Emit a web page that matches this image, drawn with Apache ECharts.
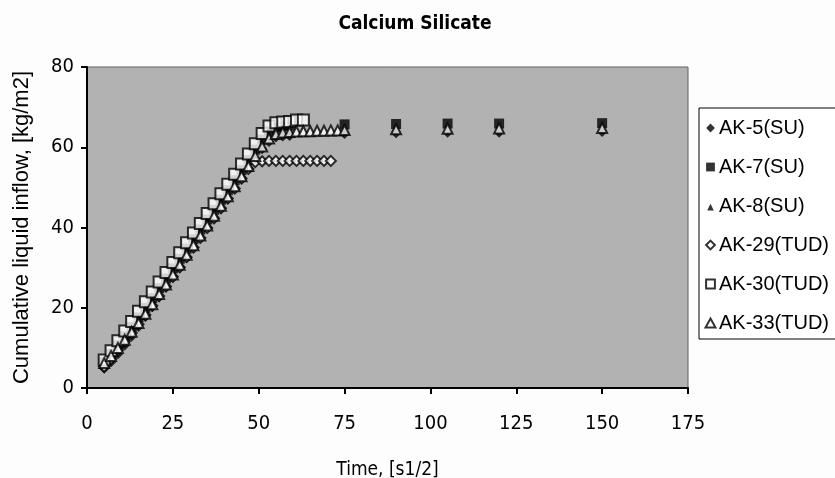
<!DOCTYPE html>
<html>
<head>
<meta charset="utf-8">
<script src="https://cdn.jsdelivr.net/npm/echarts@6/dist/echarts.min.js"></script>
<style>
  html, body { margin: 0; padding: 0; background: #fdfdfd; }
  #chart { width: 835px; height: 478px; }
</style>
</head>
<body>
<div id="chart"></div>
<script>
// Square-root-of-time readings, [s1/2]
const rampTimes = [5, 7, 9, 11, 13, 15, 17, 19, 21, 23, 25, 27, 29, 31, 33, 35, 37, 39, 41, 43, 45, 47, 49, 51, 53, 55, 57, 59, 61, 63];
const ak29Times = [5, 7, 9, 11, 13, 15, 17, 19, 21, 23, 25, 27, 29, 31, 33, 35, 37, 39, 41, 43, 45, 47, 49, 51, 53, 55, 57, 59, 61, 63, 65, 67, 69, 71];
const ak33Times = [5, 7, 9, 11, 13, 15, 17, 19, 21, 23, 25, 27, 29, 31, 33, 35, 37, 39, 41, 43, 45, 47, 49, 51, 53, 55, 57, 59, 61, 63, 65, 67, 69, 71, 73, 75, 90, 105, 120, 150];
const suTimes = [5, 7, 9, 11, 13, 15, 17, 19, 21, 23, 25, 27, 29, 31, 33, 35, 37, 39, 41, 43, 45, 47, 49, 51, 53, 55, 57, 59, 75, 90, 105, 120, 150];

// Cumulative liquid inflow, [kg/m2]
const ak5 = [4.8, 6.4, 8.4, 10.6, 12.8, 15.2, 17.7, 20.2, 22.6, 25.1, 27.5, 30.0, 32.4, 34.9, 37.3, 39.8, 42.2, 44.7, 47.1, 49.6, 52.1, 54.6, 57.1, 59.5, 61.3, 62.4, 62.7, 62.8, 63.3, 63.5, 63.6, 63.6, 63.8];
const ak7 = [6.5, 8.5, 10.6, 12.9, 15.2, 17.6, 20.0, 22.4, 24.9, 27.3, 29.8, 32.2, 34.7, 37.1, 39.5, 42.0, 44.4, 46.9, 49.3, 51.8, 54.3, 56.8, 59.4, 61.9, 63.9, 64.9, 65.3, 65.4, 65.7, 65.8, 65.9, 65.9, 66.0];
const ak8 = [5.8, 7.4, 9.4, 11.6, 13.8, 16.2, 18.6, 21.1, 23.5, 26.0, 28.4, 30.9, 33.3, 35.8, 38.2, 40.7, 43.1, 45.6, 48.0, 50.5, 53.0, 55.5, 58.0, 60.5, 62.5, 63.5, 63.8, 63.9, 64.3, 64.4, 64.5, 64.6, 64.7];
const ak29 = [5.3, 7.2, 9.4, 11.6, 13.7, 15.9, 18.2, 20.5, 22.9, 25.3, 27.7, 30.1, 32.6, 35.0, 37.4, 39.9, 42.3, 44.8, 47.2, 49.7, 52.2, 54.6, 56.3, 56.5, 56.6, 56.6, 56.6, 56.6, 56.6, 56.6, 56.6, 56.6, 56.6, 56.6];
const ak30 = [7.0, 9.3, 11.8, 14.2, 16.6, 19.1, 21.5, 23.9, 26.4, 28.8, 31.3, 33.7, 36.2, 38.6, 41.0, 43.5, 45.9, 48.4, 50.8, 53.3, 55.8, 58.3, 60.9, 63.4, 65.3, 66.1, 66.3, 66.4, 66.8, 66.8];
const ak33 = [6.2, 8.0, 10.0, 12.0, 14.0, 16.2, 18.5, 20.9, 23.4, 25.8, 28.3, 30.7, 33.2, 35.6, 38.0, 40.5, 42.9, 45.4, 47.8, 50.3, 52.8, 55.3, 57.8, 60.2, 62.2, 63.3, 63.7, 63.8, 63.9, 64.0, 64.0, 64.1, 64.1, 64.2, 64.2, 64.3, 64.5, 64.6, 64.7, 64.8];

const xTicks = [0, 25, 50, 75, 100, 125, 150, 175];
const yTicks = [0, 20, 40, 60, 80];

const pair = (xs, ys) => ys.map((v, i) => [xs[i], v]);

const narrow = "'Liberation Sans Narrow', 'DejaVu Sans Condensed', 'Liberation Sans', sans-serif";
const regular = "'Liberation Sans', Arial, sans-serif";

const filled = { color: '#000', borderColor: '#000', borderWidth: 0 };
const hollow = { color: '#fff', borderColor: '#000', borderWidth: 2 };

// legend icons padded inside a 10x10 box so the SU marks stay small
const smallDiamond = 'path://M0,0 M10,10 M5,1 L9,5 L5,9 L1,5 Z';
const smallSquare = 'path://M0,0 M10,10 M1,1 L9,1 L9,9 L1,9 Z';
const smallTriangle = 'path://M0,0 M10,10 M5,3 L8,9 L2,9 Z';

function series(name, data, symbol, size, style) {
  return {
    name, type: 'scatter', data, symbol, symbolSize: size,
    itemStyle: style, emphasis: { disabled: true }
  };
}

const chart = echarts.init(document.getElementById('chart'), null, { renderer: 'canvas' });
chart.setOption({
  animation: false,
  backgroundColor: '#fdfdfd',
  title: {
    text: 'Calcium Silicate', left: 410, top: 10, textAlign: 'center',
    textStyle: { fontFamily: narrow, fontWeight: 'bold', fontSize: 19, color: '#000' }
  },
  grid: {
    left: 87, top: 67, width: 601, height: 321, show: true,
    outerBoundsMode: 'none', containLabel: false,
    backgroundColor: '#b2b2b2', borderColor: '#606060', borderWidth: 1
  },
  legend: {
    orient: 'vertical', left: 699, top: 108,
    backgroundColor: '#fff', borderColor: '#000', borderWidth: 1,
    padding: [10, 40, 6, 5], itemGap: 19, itemWidth: 11, itemHeight: 11,
    textStyle: { fontFamily: regular, fontSize: 20, color: '#000', padding: [0, 0, 0, -2] },
    data: [
      { name: 'AK-5(SU)', icon: smallDiamond, itemStyle: filled },
      { name: 'AK-7(SU)', icon: smallSquare, itemStyle: filled },
      { name: 'AK-8(SU)', icon: smallTriangle, itemStyle: filled },
      { name: 'AK-29(TUD)', icon: smallDiamond, itemStyle: hollow },
      { name: 'AK-30(TUD)', icon: smallSquare, itemStyle: hollow },
      { name: 'AK-33(TUD)', icon: 'path://M0,0 M10,10 M5,1 L9.5,9 L0.5,9 Z', itemStyle: hollow }
    ]
  },
  xAxis: {
    type: 'value', min: 0, max: 175, interval: 25,
    name: 'Time, [s1/2]', nameLocation: 'middle', nameGap: 73,
    nameTextStyle: { fontFamily: narrow, fontSize: 19, color: '#000' },
    axisLine: { lineStyle: { color: '#000', width: 2 } },
    axisTick: { length: 6, lineStyle: { color: '#000', width: 2 } },
    axisLabel: {
      margin: 26, fontFamily: narrow, fontSize: 20, color: '#000',
      formatter: v => xTicks.includes(v) ? String(v) : ''
    },
    splitLine: { show: false }
  },
  yAxis: {
    type: 'value', min: 0, max: 80, interval: 20,
    name: 'Cumulative liquid inflow, [kg/m2]', nameLocation: 'middle', nameGap: 54,
    nameTextStyle: { fontFamily: regular, fontSize: 22, color: '#000' },
    axisLine: { show: true, lineStyle: { color: '#000', width: 2 } },
    axisTick: { show: true, length: 6, lineStyle: { color: '#000', width: 2 } },
    axisLabel: {
      margin: 13, fontFamily: narrow, fontSize: 20, color: '#000',
      formatter: v => yTicks.includes(v) ? String(v) : ''
    },
    splitLine: { show: false }
  },
  series: [
    series('AK-5(SU)', pair(suTimes, ak5), 'diamond', 10, filled),
    series('AK-7(SU)', pair(suTimes, ak7), 'rect', 10, filled),
    series('AK-8(SU)', pair(suTimes, ak8), 'triangle', 7, filled),
    series('AK-29(TUD)', pair(ak29Times, ak29), 'diamond', 10, hollow),
    series('AK-30(TUD)', pair(rampTimes, ak30), 'rect', 11, hollow),
    series('AK-33(TUD)', pair(ak33Times, ak33), 'triangle', 10, hollow)
  ]
});
</script>
</body>
</html>
